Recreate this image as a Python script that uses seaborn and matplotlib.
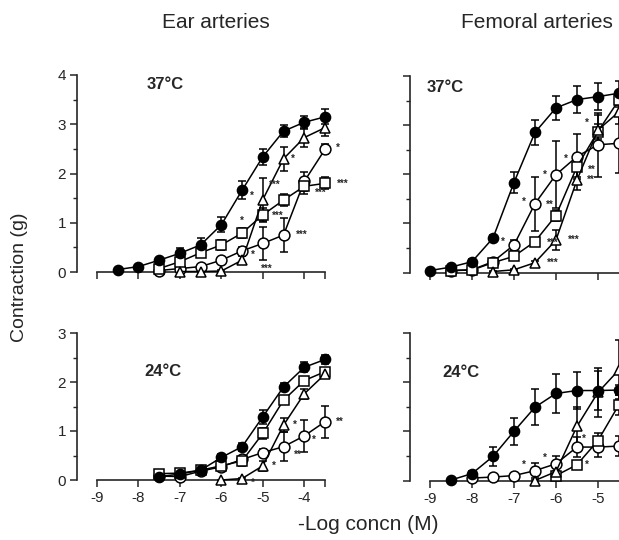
import matplotlib
matplotlib.use("Agg")
from matplotlib import pyplot as plt
from matplotlib.ticker import MultipleLocator, FixedLocator
import seaborn as sns
import pandas as pd

# -log concentration steps (M)
x_ear = [-8.5, -8, -7.5, -7, -6.5, -6, -5.5, -5, -4.5, -4, -3.5]
x_fem = [-9, -8.5, -8, -7.5, -7, -6.5, -6, -5.5, -5, -4.5]

# Ear arteries, 37 C
ear37_ctrl = [0.05, 0.11, 0.24, 0.38, 0.55, 0.96, 1.66, 2.34, 2.86, 3.04, 3.15]
ear37_ctrl_se = [0.02, 0.03, 0.05, 0.1, 0.15, 0.15, 0.18, 0.16, 0.12, 0.13, 0.15]
ear37_tri = [0.01, 0.01, 0.02, 0.24, 1.47, 2.3, 2.73, 2.93]
ear37_tri_se = [0.0, 0.0, 0.02, 0.08, 0.43, 0.24, 0.2, 0.17]
ear37_sq = [0.07, 0.21, 0.39, 0.55, 0.79, 1.16, 1.46, 1.74, 1.8]
ear37_sq_se = [0.03, 0.05, 0.08, 0.1, 0.1, 0.14, 0.12, 0.15, 0.12]
ear37_circ = [0.03, 0.07, 0.11, 0.24, 0.43, 0.58, 0.75, 1.84, 2.49]
ear37_circ_se = [0.02, 0.02, 0.03, 0.05, 0.08, 0.33, 0.34, 0.2, 0.1]

# Ear arteries, 24 C
ear24_ctrl = [0.07, 0.12, 0.2, 0.46, 0.68, 1.29, 1.9, 2.3, 2.46]
ear24_ctrl_se = [0.05, 0.05, 0.06, 0.08, 0.08, 0.14, 0.08, 0.1, 0.09]
ear24_sq = [0.13, 0.14, 0.2, 0.29, 0.39, 0.95, 1.63, 2.03, 2.21]
ear24_sq_se = [0.05, 0.07, 0.06, 0.08, 0.1, 0.12, 0.08, 0.06, 0.07]
ear24_tri = [0.0, 0.03, 0.29, 1.12, 1.76, 2.16]
ear24_tri_se = [0.0, 0.02, 0.1, 0.14, 0.1, 0.08]
ear24_circ = [0.08, 0.07, 0.18, 0.27, 0.42, 0.56, 0.68, 0.9, 1.19]
ear24_circ_se = [0.04, 0.06, 0.05, 0.06, 0.08, 0.08, 0.3, 0.32, 0.33]

# Femoral arteries, 37 C
fem37_ctrl = [0.04, 0.11, 0.22, 0.70, 1.83, 2.85, 3.35, 3.52, 3.58, 3.65]
fem37_ctrl_se = [0.02, 0.03, 0.05, 0.06, 0.22, 0.25, 0.24, 0.27, 0.27, 0.25]
fem37_circ = [0.04, 0.055, 0.22, 0.56, 1.40, 1.99, 2.36, 2.6, 2.63]
fem37_circ_se = [0.02, 0.02, 0.05, 0.1, 0.55, 0.68, 0.45, 0.65, 0.6]
fem37_sq = [0.04, 0.05, 0.2, 0.33, 0.63, 1.16, 2.15, 2.87, 3.51]
fem37_sq_se = [0.02, 0.02, 0.04, 0.06, 0.08, 0.12, 0.2, 0.15, 0.15]
fem37_tri = [0.02, 0.055, 0.2, 0.66, 1.88, 2.9, 3.27]
fem37_tri_se = [0.01, 0.02, 0.04, 0.2, 0.2, 0.3, 0.25]

# Femoral arteries, 24 C
fem24_ctrl = [0.01, 0.14, 0.49, 1.0, 1.49, 1.77, 1.83, 1.83, 1.84]
fem24_ctrl_se = [0.02, 0.06, 0.2, 0.27, 0.37, 0.4, 0.38, 0.4, 0.1]
fem24_circ = [0.05, 0.07, 0.1, 0.2, 0.34, 0.68, 0.68, 0.7]
fem24_circ_se = [0.02, 0.03, 0.04, 0.15, 0.15, 0.2, 0.2, 0.2]
fem24_tri = [0.0, 0.18, 1.1, 1.79, 2.25]
fem24_tri_se = [0.01, 0.08, 0.4, 0.5, 0.6]
fem24_sq = [0.1, 0.32, 0.81, 1.54]
fem24_sq_se = [0.03, 0.05, 0.15, 0.2]

# panel -> list of (series, x, mean, se)
panels = {
    "ear37": [("circ", x_ear[2:], ear37_circ, ear37_circ_se),
              ("sq", x_ear[2:], ear37_sq, ear37_sq_se),
              ("tri", x_ear[3:], ear37_tri, ear37_tri_se),
              ("ctrl", x_ear, ear37_ctrl, ear37_ctrl_se)],
    "ear24": [("circ", x_ear[2:], ear24_circ, ear24_circ_se),
              ("sq", x_ear[2:], ear24_sq, ear24_sq_se),
              ("tri", x_ear[5:], ear24_tri, ear24_tri_se),
              ("ctrl", x_ear[2:], ear24_ctrl, ear24_ctrl_se)],
    "fem37": [("circ", x_fem[1:], fem37_circ, fem37_circ_se),
              ("sq", x_fem[1:], fem37_sq, fem37_sq_se),
              ("tri", x_fem[3:], fem37_tri, fem37_tri_se),
              ("ctrl", x_fem, fem37_ctrl, fem37_ctrl_se)],
    "fem24": [("circ", x_fem[2:], fem24_circ, fem24_circ_se),
              ("sq", x_fem[6:], fem24_sq, fem24_sq_se),
              ("tri", x_fem[5:], fem24_tri, fem24_tri_se),
              ("ctrl", x_fem[1:], fem24_ctrl, fem24_ctrl_se)],
}

# significance marks: (panel, series, logc, label, dx pt, dy pt)
stars = [
    ("ear37", "tri", -4.5, "*", 7, 0), ("ear37", "tri", -5, "*", -8, 3),
    ("ear37", "sq", -5.5, "*", 0, 9), ("ear37", "sq", -5, "***", 11, -1),
    ("ear37", "sq", -4.5, "***", -6, 11), ("ear37", "sq", -4, "***", 12, -5),
    ("ear37", "sq", -3.5, "***", 13, 0), ("ear37", "circ", -3.5, "*", 9, 1),
    ("ear37", "circ", -4.5, "***", 13, 0), ("ear37", "circ", -5, "***", 3, -18),
    ("ear37", "circ", -5.5, "*", 8, -3),
    ("ear24", "tri", -4.5, "*", 8, 0), ("ear24", "tri", -5, "*", 8, 0),
    ("ear24", "tri", -5.5, "*", 8, -3), ("ear24", "circ", -4.5, "**", 10, -6),
    ("ear24", "circ", -4, "*", 7, -3), ("ear24", "circ", -3.5, "**", 11, 0),
    ("fem37", "circ", -7, "*", -8, 2), ("fem37", "circ", -6.5, "*", -8, 1),
    ("fem37", "circ", -6.5, "**", 11, -1), ("fem37", "circ", -6, "*", -8, 0),
    ("fem37", "circ", -5.5, "*", -8, -2), ("fem37", "sq", -6.5, "***", 13, -1),
    ("fem37", "sq", -5.5, "**", 11, -2), ("fem37", "tri", -6, "***", 13, 0),
    ("fem37", "tri", -6.5, "***", 13, 0), ("fem37", "tri", -5.5, "**", 10, 0),
    ("fem37", "sq", -5, "*", -8, 6),
    ("fem24", "circ", -6.5, "*", -8, 4), ("fem24", "circ", -6, "*", -8, 4),
    ("fem24", "circ", -5.5, "*", 5, 6), ("fem24", "sq", -5.5, "*", 7, 0),
]

rows = []
for pname, series in panels.items():
    for sname, xs, ys, ses in series:
        for x, y, s in zip(xs, ys, ses):
            rows.append({"panel": pname, "series": sname, "logc": x, "mean": y, "se": s})
df = pd.DataFrame(rows)

styles = {
    "ctrl": dict(marker="o", markerfacecolor="black", markersize=7.3),
    "circ": dict(marker="o", markerfacecolor="white", markersize=7.8),
    "sq": dict(marker="s", markerfacecolor="white", markersize=6.8),
    "tri": dict(marker="^", markerfacecolor="white", markersize=7.3),
}

sns.set_style("ticks")
plt.rcParams["font.family"] = ["Liberation Sans", "DejaVu Sans"]

W, H = 619, 540
fig = plt.figure(figsize=(W / 100, H / 100), dpi=100)

boxes = {
    "ear37": (97, 272, 228, 197, 4, (-9, -3.5)),
    "ear24": (97, 480, 228, 147, 3, (-9, -3.5)),
    "fem37": (430, 272.5, 191, 196.5, 4, (-9, -4.45)),
    "fem24": (430, 480.5, 191, 147.5, 3, (-9, -4.45)),
}

axes = {}
for pname, (x0, y0, w, h, ymax, xl) in boxes.items():
    ax = fig.add_axes([x0 / W, (H - y0) / H, w / W, h / H])
    axes[pname] = ax
    sub = df[df.panel == pname]
    for sname, _, _, _ in panels[pname]:
        d = sub[sub.series == sname]
        ax.errorbar(d["logc"], d["mean"], yerr=d["se"], fmt="none", ecolor="black",
                    elinewidth=1.1, capsize=3, capthick=1.1, zorder=2, clip_on=False)
        sns.lineplot(data=d, x="logc", y="mean", ax=ax, color="black", linewidth=1.1,
                     markeredgecolor="black", markeredgewidth=1.1, zorder=3,
                     clip_on=False, legend=False, **styles[sname])
    ax.set_xlim(*xl)
    ax.set_ylim(0, ymax)
    ax.set_xlabel("")
    ax.set_ylabel("")
    ax.xaxis.set_major_locator(MultipleLocator(1))
    if pname.startswith("ear"):
        ax.xaxis.set_minor_locator(FixedLocator([-3.5]))
    ax.yaxis.set_major_locator(MultipleLocator(1))
    ax.yaxis.set_minor_locator(MultipleLocator(0.5))
    sns.despine(ax=ax)
    ax.spines["left"].set_position(("outward", 14.2))
    for sp in ("left", "bottom"):
        ax.spines[sp].set_linewidth(1.2)
    ax.tick_params(axis="both", which="major", length=5, width=1.1, labelsize=11, pad=3)
    ax.tick_params(axis="y", which="minor", length=3, width=1.0)
    ax.tick_params(axis="x", which="minor", length=5, width=1.1)
    ax.set_facecolor("none")
    if pname.startswith("fem"):
        ax.tick_params(axis="y", labelleft=False)
    if pname.endswith("37"):
        ax.tick_params(axis="x", labelbottom=False)
    else:
        ticks = [-9, -8, -7, -6, -5, -4] if pname == "ear24" else [-9, -8, -7, -6, -5]
        ax.set_xticks(ticks)
        ax.set_xticklabels([str(v) for v in ticks])

# significance asterisks
for pname, sname, xv, lab, dx, dy in stars:
    d = df[(df.panel == pname) & (df.series == sname) & (df.logc == xv)]
    if d.empty:
        continue
    axes[pname].annotate(lab, (xv, d["mean"].iloc[0]), xytext=(dx, dy),
                         textcoords="offset points", ha="center", va="center",
                         fontsize=7, fontweight="bold", annotation_clip=False)

# temperature labels
axes["ear37"].text(0.3, 0.95, "37°C", transform=axes["ear37"].transAxes,
                   fontsize=12, fontweight="bold", ha="center", va="center")
axes["ear24"].text(0.29, 0.74, "24°C", transform=axes["ear24"].transAxes,
                   fontsize=12, fontweight="bold", ha="center", va="center")
axes["fem37"].text(0.08, 0.94, "37°C", transform=axes["fem37"].transAxes,
                   fontsize=12, fontweight="bold", ha="center", va="center")
axes["fem24"].text(0.16, 0.73, "24°C", transform=axes["fem24"].transAxes,
                   fontsize=12, fontweight="bold", ha="center", va="center")

fig.text(216 / W, 1 - 22 / H, "Ear arteries", fontsize=15, ha="center", va="center")
fig.text(537 / W, 1 - 22 / H, "Femoral arteries", fontsize=15, ha="center", va="center")
fig.text(20 / W, 1 - 277 / H, "Contraction (g)", fontsize=14, rotation=90,
         ha="center", va="center")
fig.text(368 / W, 1 - 524 / H, "-Log concn (M)", fontsize=15, ha="center", va="center")

fig.savefig("out.png", dpi=100, facecolor="white")
